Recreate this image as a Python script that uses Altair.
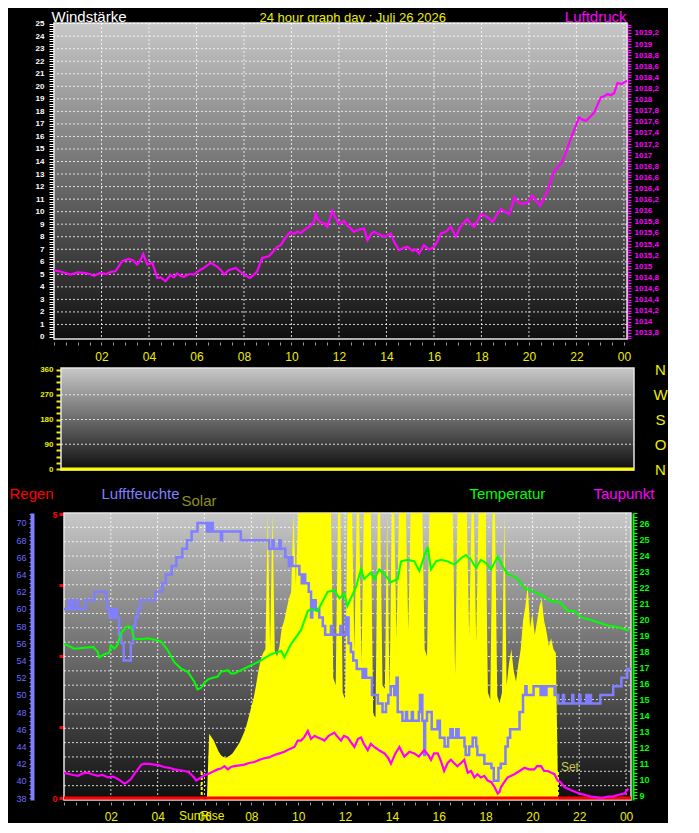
import altair as alt
import pandas as pd

# ------------------------------------------------------------------ data
title_text = "24 hour graph day : Juli 26 2026"

# Luftdruck (hPa), upper panel
p_hours = [0.0, 0.3, 0.7, 1.0, 1.26, 1.5, 1.68, 1.96, 2.2, 2.4, 2.59, 2.87, 3.15, 3.35, 3.5, 3.65,
           3.76, 3.93, 4.14, 4.35, 4.5, 4.7, 4.9, 5.05, 5.19, 5.35, 5.47, 5.7, 5.89, 6.1, 6.31, 6.6,
           6.88, 7.05, 7.16, 7.35, 7.51, 7.65, 7.85, 8.0, 8.25, 8.4, 8.56, 8.77, 9.05, 9.2, 9.4, 9.55,
           9.68, 9.85, 9.97, 10.1, 10.25, 10.4, 10.53, 10.7, 10.81, 10.95, 11.02, 11.1, 11.23, 11.4,
           11.51, 11.62, 11.72, 11.85, 12.0, 12.21, 12.36, 12.5, 12.63, 12.85, 13.06, 13.2, 13.35,
           13.48, 13.7, 13.9, 14.05, 14.18, 14.35, 14.53, 14.7, 14.88, 15.1, 15.25, 15.37, 15.58, 15.8,
           16.0, 16.15, 16.29, 16.5, 16.71, 16.92, 17.1, 17.25, 17.41, 17.55, 17.69, 17.85, 17.97,
           18.2, 18.47, 18.65, 18.82, 19.0, 19.17, 19.3, 19.38, 19.55, 19.73, 19.95, 20.15, 20.3,
           20.47, 20.62, 20.78, 20.92, 21.06, 21.25, 21.42, 21.6, 21.76, 21.95, 22.11, 22.25, 22.4,
           22.6, 22.75, 22.9, 23.03, 23.17, 23.31, 23.45, 23.59, 23.73, 23.9, 24.05, 24.13]
p_values = [1014.93, 1014.90, 1014.85, 1014.89, 1014.88, 1014.86, 1014.83, 1014.88, 1014.86, 1014.90,
            1014.91, 1015.09, 1015.13, 1015.10, 1015.03, 1015.12, 1015.22, 1015.03, 1015.06, 1014.79,
            1014.80, 1014.73, 1014.84, 1014.80, 1014.87, 1014.82, 1014.81, 1014.86, 1014.85, 1014.92,
            1014.97, 1015.06, 1014.99, 1014.92, 1014.85, 1014.93, 1014.95, 1014.97, 1014.90, 1014.85,
            1014.79, 1014.84, 1014.91, 1015.15, 1015.18, 1015.25, 1015.35, 1015.38, 1015.47, 1015.57,
            1015.62, 1015.58, 1015.62, 1015.60, 1015.65, 1015.70, 1015.73, 1015.80, 1015.94, 1015.85,
            1015.79, 1015.76, 1015.71, 1015.86, 1016.00, 1015.88, 1015.76, 1015.82, 1015.73, 1015.68,
            1015.62, 1015.66, 1015.68, 1015.47, 1015.58, 1015.62, 1015.57, 1015.53, 1015.56, 1015.59,
            1015.42, 1015.29, 1015.33, 1015.35, 1015.28, 1015.30, 1015.23, 1015.38, 1015.30, 1015.35,
            1015.45, 1015.59, 1015.62, 1015.71, 1015.53, 1015.70, 1015.78, 1015.85, 1015.76, 1015.71,
            1015.83, 1015.94, 1015.90, 1015.80, 1015.93, 1016.03, 1015.98, 1015.94, 1016.10, 1016.24,
            1016.15, 1016.12, 1016.15, 1016.27, 1016.18, 1016.09, 1016.22, 1016.35, 1016.55, 1016.71,
            1016.80, 1016.89, 1017.10, 1017.30, 1017.50, 1017.68, 1017.64, 1017.62, 1017.70, 1017.77,
            1017.92, 1018.04, 1018.06, 1018.10, 1018.08, 1018.12, 1018.30, 1018.28, 1018.32, 1018.34]

# Windrichtung (middle panel)
wdir_hours = [0, 24.13]
wdir_values = [0, 0]

# Luftfeuchte (%)
hum_hours = [0.0, 0.2, 0.25, 0.35, 0.4, 0.55, 0.6, 0.9, 1.3, 1.8, 1.85, 1.95, 2.05, 2.1, 2.2, 2.25,
             2.35, 2.45, 2.55, 2.85, 2.95, 3.05, 3.15, 3.25, 3.9, 4.2, 4.35, 4.6, 4.8, 5.05, 5.25,
             5.45, 5.7, 6.1, 6.15, 6.25, 6.3, 6.35, 6.7, 6.75, 7.55, 8.75, 8.9, 8.95, 9.2, 9.25,
             9.45, 9.6, 9.7, 9.75, 10.05, 10.15, 10.2, 10.3, 10.45, 10.55, 10.6, 10.65, 10.75, 10.9,
             11.05, 11.15, 11.4, 11.45, 11.8, 11.85, 12.05, 12.15, 12.25, 12.35, 12.5, 12.75, 12.85,
             12.9, 13.15, 13.4, 13.6, 13.75, 13.85, 13.95, 14.1, 14.2, 14.25, 14.45, 14.6, 14.65,
             14.85, 14.9, 15.15, 15.2, 15.3, 15.38, 15.42, 15.5, 15.7, 15.95, 16.05, 16.25, 16.4,
             16.5, 16.6, 16.75, 16.85, 17.1, 17.15, 17.3, 17.45, 17.6, 17.65, 17.95, 18.25, 18.35,
             18.55, 18.65, 18.85, 18.95, 19.05, 19.45, 19.6, 19.7, 19.75, 20.05, 20.35, 20.45, 20.5,
             20.6, 20.95, 21.1, 21.3, 21.35, 21.7, 21.75, 22.0, 22.05, 22.3, 22.35, 22.45, 22.5,
             22.9, 23.45, 23.8, 24.05, 24.21]
hum_values = [60, 61, 60, 61, 60, 61, 60, 61, 62, 61, 60, 59, 60, 59, 60, 59,
              57, 56, 54, 56, 58, 59, 60, 61, 62, 63, 64, 65, 66, 67, 68,
              69, 70, 69, 70, 69, 70, 69, 68, 69, 68, 67, 68, 67, 68, 67,
              66, 65, 66, 65, 64, 63, 64, 63, 62, 59, 60, 61, 60, 59,
              58, 57, 58, 57, 58, 57, 59, 56, 55, 54, 53, 52, 53,
              52, 50, 49, 48, 49, 50, 51, 50, 52, 48, 47, 48, 47,
              48, 47, 48, 50, 47, 43, 47, 48, 46, 47, 45, 44, 45,
              46, 45, 46, 45, 44, 43, 44, 45, 44, 43, 42, 41.5, 40,
              41.5, 42, 44, 45, 46, 48, 50, 51, 50, 51, 50, 51, 50,
              51, 50, 49, 50, 49, 50, 49, 50, 49, 50, 49, 50, 49,
              50, 51, 52, 53, 53]

# Temperatur (°C)
tmp_hours = [0.0, 0.09, 0.43, 0.87, 1.26, 1.44, 1.5, 1.72, 1.93, 2.0, 2.15, 2.29, 2.43, 2.65, 2.75,
             2.86, 3.0, 3.29, 3.57, 3.86, 4.14, 4.43, 4.71, 5.0, 5.28, 5.56, 5.7, 5.85, 5.99, 6.13,
             6.28, 6.56, 6.7, 6.99, 7.13, 7.27, 7.56, 7.84, 7.98, 8.13, 8.4, 8.84, 9.27, 9.41, 9.7,
             10.12, 10.41, 10.55, 10.83, 10.97, 11.26, 11.54, 11.76, 11.97, 12.1, 12.25, 12.47,
             12.68, 12.82, 13.1, 13.25, 13.46, 13.68, 13.96, 14.25, 14.39, 14.67, 14.96, 15.17,
             15.38, 15.53, 15.67, 15.88, 16.1, 16.38, 16.67, 16.95, 17.16, 17.38, 17.59, 17.8,
             18.02, 18.23, 18.52, 18.73, 18.94, 19.16, 19.37, 19.66, 19.94, 20.08, 20.37, 20.5,
             20.8, 20.94, 21.22, 21.5, 21.79, 22.08, 22.36, 22.79, 23.22, 23.64, 24.07, 24.13]
tmp_values = [18.45, 18.4, 18.14, 18.2, 18.25, 17.94, 17.6, 17.8, 17.9, 18.36, 18.15, 18.4, 19.1,
              19.5, 19.55, 19.5, 18.77, 18.73, 18.8, 18.7, 18.6, 18.05, 17.3, 16.9, 16.7, 16.1,
              15.6, 15.7, 16.0, 16.2, 16.3, 16.4, 16.7, 16.8, 16.6, 16.6, 16.8, 17.0, 17.1, 17.2,
              17.4, 17.8, 18.0, 17.6, 18.45, 19.3, 20.5, 20.6, 20.5, 20.9, 21.7, 21.8, 21.3, 21.6,
              20.8, 21.3, 22.0, 23.1, 22.5, 22.9, 22.5, 23.1, 22.8, 22.3, 22.5, 23.6, 23.7, 23.6,
              23.0, 23.9, 24.5, 23.1, 23.6, 23.7, 23.6, 23.4, 23.8, 24.0, 23.7, 23.2, 23.7, 23.5,
              23.1, 23.9, 23.3, 22.8, 22.7, 22.5, 21.9, 21.8, 21.7, 21.5, 21.4, 21.1, 21.1, 21.0,
              20.5, 20.5, 20.1, 20.0, 19.8, 19.6, 19.5, 19.3, 19.3]

# Taupunkt (°C)
dew_hours = [0.0, 0.16, 0.4, 0.6, 0.8, 1.01, 1.2, 1.44, 1.65, 1.87, 2.1, 2.3, 2.45, 2.58, 2.7, 2.86,
             3.0, 3.15, 3.3, 3.43, 3.65, 3.86, 4.05, 4.28, 4.5, 4.71, 4.9, 5.14, 5.3, 5.42, 5.55,
             5.64, 5.75, 5.85, 6.0, 6.13, 6.35, 6.56, 6.7, 6.85, 6.99, 7.13, 7.27, 7.5, 7.7, 7.9,
             8.13, 8.35, 8.55, 8.75, 8.98, 9.2, 9.41, 9.6, 9.84, 9.98, 10.12, 10.25, 10.41, 10.55,
             10.7, 10.83, 11.0, 11.12, 11.3, 11.54, 11.7, 11.83, 11.95, 12.11, 12.25, 12.4, 12.55,
             12.68, 12.8, 12.97, 13.1, 13.25, 13.45, 13.68, 13.85, 13.96, 14.15, 14.32, 14.53,
             14.75, 14.96, 15.15, 15.38, 15.55, 15.67, 15.8, 15.96, 16.1, 16.23, 16.38, 16.52,
             16.65, 16.8, 16.95, 17.09, 17.24, 17.38, 17.52, 17.65, 17.8, 17.95, 18.09, 18.25,
             18.38, 18.52, 18.6, 18.66, 18.8, 18.94, 19.1, 19.23, 19.45, 19.66, 19.85, 20.08, 20.2,
             20.37, 20.5, 20.65, 20.79, 20.94, 21.08, 21.2, 21.37, 21.65, 22.0, 22.25, 22.5, 22.75,
             22.93, 23.22, 23.45, 23.64, 23.93, 24.1]
dew_values = [10.4, 10.33, 10.25, 10.2, 10.35, 10.4, 10.3, 10.2, 10.25, 10.1, 10.15, 10.0, 9.85, 9.7,
              9.8, 10.0, 10.3, 10.6, 10.9, 10.96, 10.95, 10.9, 10.85, 10.75, 10.7, 10.6, 10.55, 10.5,
              10.45, 10.3, 10.1, 9.9, 10.0, 10.1, 10.25, 10.3, 10.45, 10.6, 10.65, 10.8, 10.6,
              10.75, 10.8, 10.85, 10.9, 11.0, 11.06, 11.2, 11.3, 11.35, 11.5, 11.6, 11.7, 11.85,
              12.0, 12.4, 12.4, 12.6, 13.0, 12.5, 12.7, 12.6, 12.5, 12.4, 12.7, 12.9, 12.6, 12.4,
              12.7, 12.6, 12.3, 12.0, 12.5, 12.6, 12.2, 11.8, 12.2, 12.0, 11.8, 11.6, 11.3, 10.96,
              11.6, 12.0, 11.4, 11.7, 11.6, 11.4, 11.8, 11.5, 11.2, 11.6, 11.6, 11.1, 10.5, 11.0,
              11.2, 11.0, 10.8, 11.0, 11.2, 10.4, 10.5, 10.1, 10.3, 10.1, 10.2, 9.9, 9.8, 9.5, 9.1,
              9.2, 9.5, 9.8, 10.1, 10.2, 10.3, 10.5, 10.7, 10.6, 10.6, 10.8, 10.8, 10.5, 10.5, 10.4,
              10.3, 9.9, 9.8, 9.5, 9.3, 9.1, 9.0, 8.9, 8.85, 8.8, 8.9, 8.9, 9.0, 9.1, 9.4]

# Solar (W/m², 0.1 h steps starting 06:06)
solar_start = 6.1
solar_step = 0.1
solar_values = [0, 185, 175, 165, 150, 135, 125, 120, 118,
                120, 125, 130, 140, 150, 160, 175, 190, 210, 235,
                260, 285, 320, 360, 390, 410, 420, 800, 425, 800,
                415, 400, 430, 480, 500, 530, 560, 580, 800, 600,
                800, 800, 800, 800, 800, 800, 800, 800, 800, 800,
                800, 800, 800, 800, 800, 340, 320, 800, 800, 300,
                280, 800, 800, 800, 420, 800, 800, 380, 800, 800,
                800, 800, 240, 230, 800, 800, 320, 310, 800, 300,
                800, 800, 450, 800, 800, 800, 800, 470, 800, 800,
                800, 800, 800, 800, 420, 400, 800, 800, 800, 800,
                800, 800, 800, 800, 800, 800, 800, 350, 800, 800,
                800, 800, 800, 460, 800, 800, 440, 800, 800, 800,
                800, 300, 280, 800, 800, 290, 270, 300, 800, 320,
                380, 420, 360, 330, 380, 420, 500, 540, 600, 480,
                520, 460, 500, 540, 560, 500, 470, 430, 450, 420,
                410, 0]
solar_hours = [round(solar_start + solar_step * i, 2) for i in range(len(solar_values))]

# Regen (mm)
rain_hours = [0, 24.21]
rain_values = [0, 0]

# Sonnenauf-/untergang
sun_labels = ["SunRise", "Set"]
sun_hours = [5.88, 21.09]

# ------------------------------------------------------------------ styling helpers
FONT = "Liberation Sans"
YEL = "#eeee00"
MAG = "#ff00ff"
BLUE = "#7f7fff"
GREEN = "#00ff00"
RED = "#ff0000"
GRID = dict(color="#ffffff", strokeDash=[2, 2], strokeWidth=1, opacity=0.8)
ONE = pd.DataFrame({"k": [0]})


def grad():
    return alt.LinearGradient(gradient="linear", x1=0, x2=0, y1=0, y2=1,
                              stops=[alt.GradientStop(color="#c8c8c8", offset=0),
                                     alt.GradientStop(color="#0e0e0e", offset=1)])


def sc(dom):
    return alt.Scale(domain=dom, nice=False, zero=False)


hour_ticks = [i * 0.5 for i in range(49)]
hour_grid = list(range(2, 25, 2))
hour_label = ("datum.value % 2 == 0 && datum.value > 0 ? (datum.value == 24 ? '00' : "
              "(datum.value < 10 ? '0' + datum.value : '' + datum.value)) : ''")
INT_LABEL = "abs(datum.value - round(datum.value)) < 0.01 ? toString(round(datum.value)) : ''"


def hour_axis(offset):
    return alt.Axis(orient="bottom", values=hour_ticks, labelExpr=hour_label, grid=False,
                    domain=False, ticks=True,
                    tickColor="#9a9a9a", tickSize=3, tickWidth=1, offset=offset,
                    labelColor=YEL, labelFont=FONT, labelFontSize=12, labelPadding=6,
                    labelOverlap=False, labelFlush=False, title=None)


def make_x(dom, axis):
    """x encodings of one panel: same scale and same axis everywhere"""
    def fx(field=None, datum=None):
        if field is not None:
            return alt.X(field, type="quantitative", scale=sc(dom), axis=axis)
        return alt.XDatum(datum, type="quantitative", scale=sc(dom), axis=axis)
    return fx


def ttl(text, color, x, y, size=15):
    return dict(title=text, titleColor=color, titleFont=FONT, titleFontSize=size,
                titleFontWeight="normal", titleAngle=0, titleAlign="left",
                titleBaseline="alphabetic", titleX=x, titleY=y)


# ------------------------------------------------------------------ top panel
T_W, T_H = 573, 316
T_XD = [0, 24.13]
WS_D = [-0.16, 25.05]
P_D = [1013.69, 1019.38]
tx = make_x(T_XD, hour_axis(3))

ws_ticks = [round(i * 0.2, 1) for i in range(126)]
ws_axis = alt.Axis(orient="left", values=ws_ticks, labelExpr=INT_LABEL, grid=False,
                   domain=True, domainColor="#ffffff", domainWidth=1.5,
                   tickColor="#ffffff", tickSize=5, tickWidth=1,
                   labelColor="#ffffff", labelFont=FONT, labelFontSize=8, labelFontWeight="bold",
                   labelPadding=5, labelOverlap=False, labelFlush=False,
                   **ttl("Windstärke", "#ffffff", -3, -2))
title_axis = alt.Axis(orient="left", labels=False, ticks=False, domain=False, grid=False,
                      **ttl(title_text, YEL, 205, -2, 13))
p_ticks = [round(1013.70 + 0.05 * i, 2) for i in range(114)]
p_axis = alt.Axis(orient="right", values=p_ticks,
                  labelExpr="abs(datum.value * 5 - round(datum.value * 5)) < 0.01 ? "
                            "replace(toString(round(datum.value * 10) / 10), '.', ',') : ''",
                  grid=False, domain=True, domainColor=MAG, domainWidth=2,
                  tickColor=MAG, tickSize=4, tickWidth=1,
                  labelColor=MAG, labelFont=FONT, labelFontSize=8, labelFontWeight="bold",
                  labelPadding=3, labelOverlap=False, labelFlush=False,
                  title="Luftdruck", titleColor=MAG, titleFont=FONT, titleFontSize=15,
                  titleFontWeight="normal", titleAngle=0, titleAlign="right",
                  titleBaseline="alphabetic", titleX=-1, titleY=-2)

t_bg = alt.Chart(ONE).mark_rect(fill=grad(), stroke="#e4e4e4", strokeWidth=1.5).encode(
    x=tx(datum=T_XD[0]),
    x2=alt.X2Datum(T_XD[1]),
    y=alt.YDatum(WS_D[0], type="quantitative", scale=sc(WS_D), axis=ws_axis),
    y2=alt.Y2Datum(WS_D[1]),
)
t_hgrid = alt.Chart(pd.DataFrame({"v": list(range(1, 26))})).mark_rule(**GRID).encode(
    y=alt.Y("v:Q", scale=sc(WS_D), axis=title_axis))
t_vgrid = alt.Chart(pd.DataFrame({"h": hour_grid})).mark_rule(**GRID).encode(
    x=tx("h"))
t_line = alt.Chart(pd.DataFrame({"h": p_hours, "p": p_values})).mark_line(
    color=MAG, strokeWidth=2.2).encode(
    x=tx("h"),
    y=alt.Y("p:Q", scale=sc(P_D), axis=p_axis))

top = alt.layer(t_bg, t_hgrid, t_vgrid, t_line).resolve_scale(y="independent").properties(
    width=T_W, height=T_H)

# ------------------------------------------------------------------ middle panel
M_W, M_H = 580, 116
M_XD = [-0.295, 24.13]
WD_D = [-54.5, 367.27]
mx = make_x(M_XD, None)

wd_axis = alt.Axis(orient="left", offset=-7, values=[i * 22.5 for i in range(17)],
                   labelExpr="datum.value % 90 == 0 ? toString(datum.value) : ''",
                   domain=False, grid=False, tickColor=YEL, tickSize=5, tickWidth=2,
                   labelColor=YEL, labelFont=FONT, labelFontSize=8, labelFontWeight="bold",
                   labelPadding=3, labelOverlap=False, labelFlush=False, title=None)
compass_axis = alt.Axis(orient="right", offset=26, values=[0, 90, 180, 270, 360],
                        labelExpr="datum.value == 270 ? 'W' : datum.value == 180 ? 'S' : "
                                  "datum.value == 90 ? 'O' : 'N'",
                        domain=False, ticks=False, tickSize=0, grid=False,
                        labelColor=YEL, labelFont=FONT, labelFontSize=15, labelAlign="center",
                        labelBaseline="middle", labelPadding=0, labelOverlap=False,
                        labelFlush=False, title=None)

m_bg = alt.Chart(ONE).mark_rect(fill=grad(), stroke="#e4e4e4", strokeWidth=1.5).encode(
    x=mx(datum=0),
    x2=alt.X2Datum(24.13),
    y=alt.YDatum(-3.6, type="quantitative", scale=sc(WD_D), axis=None),
    y2=alt.Y2Datum(367.27),
)
m_grid = alt.Chart(pd.DataFrame({"v": [90, 180, 270]})).mark_rule(**GRID).encode(
    x=mx(datum=0),
    x2=alt.X2Datum(24.13),
    y=alt.Y("v:Q", scale=sc(WD_D), axis=compass_axis))
m_line = alt.Chart(pd.DataFrame({"h": wdir_hours, "d": wdir_values})).mark_line(
    color="#ffff00", strokeWidth=3).encode(
    x=mx("h"),
    y=alt.Y("d:Q", scale=sc(WD_D), axis=wd_axis))

mid = alt.layer(m_bg, m_grid, m_line).resolve_scale(y="independent").properties(
    width=M_W, height=M_H)

# ------------------------------------------------------------------ bottom panel
B_W, B_H = 577, 287
B_XD = [-0.427, 24.21]
S_D = [0, 800]
H_D = [37.77, 71.16]
TP_D = [8.6875, 26.625]
R_D = [-0.035, 5.018]
bx = make_x(B_XD, hour_axis(2))

solar_axis = alt.Axis(orient="left", offset=0, labels=False, ticks=False, domain=False,
                      grid=False, **ttl("Solar", "#8f8f25", 127, -8))
rain_axis = alt.Axis(orient="left", offset=-10, values=[0, 1.25, 2.5, 3.75, 5],
                     labelExpr="datum.value == 0 || datum.value == 5 ? toString(datum.value) : ''",
                     domain=False, grid=False, tickColor=RED, tickSize=5, tickWidth=3,
                     labelColor=RED, labelFont=FONT, labelFontSize=9, labelFontWeight="bold",
                     labelPadding=2, labelOverlap=False, labelFlush=False,
                     **ttl("Regen", RED, -55, -15))
hum_axis = alt.Axis(orient="left", offset=22, values=[38 + 0.5 * i for i in range(67)],
                    labelExpr="abs(datum.value / 2 - round(datum.value / 2)) < 0.01 ? "
                              "toString(round(datum.value)) : ''",
                    domain=True, domainColor=BLUE, domainWidth=4, grid=False,
                    tickColor=BLUE, tickSize=3, tickWidth=1,
                    labelColor="#6c6cff", labelFont=FONT, labelFontSize=9,
                    labelPadding=3, labelOverlap=False, labelFlush=False,
                    **ttl("Lufftfeuchte", BLUE, 69, -15))
tmp_axis = alt.Axis(orient="right", offset=2, values=[round(8.8 + 0.2 * i, 1) for i in range(90)],
                    labelExpr=INT_LABEL, domain=True, domainColor=GREEN, domainWidth=2, grid=False,
                    tickColor=GREEN, tickSize=4, tickWidth=1,
                    labelColor=GREEN, labelFont=FONT, labelFontSize=9, labelFontWeight="bold",
                    labelPadding=2, labelOverlap=False, labelFlush=False,
                    **ttl("Temperatur", GREEN, -164, -15))
dew_axis = alt.Axis(orient="right", offset=0, labels=False, ticks=False, domain=False, grid=False,
                    **ttl("Taupunkt", MAG, -38, -15))

b_bg = alt.Chart(ONE).mark_rect(fill=grad(), stroke="#e4e4e4", strokeWidth=1.5).encode(
    x=bx(datum=0),
    x2=alt.X2Datum(24.21),
    y=alt.YDatum(0, type="quantitative", scale=sc(S_D), axis=solar_axis),
    y2=alt.Y2Datum(800),
)
b_hgrid = alt.Chart(pd.DataFrame({"v": list(range(40, 800, 40))})).mark_rule(**GRID).encode(
    x=bx(datum=0),
    x2=alt.X2Datum(24.21),
    y=alt.Y("v:Q", scale=sc(S_D), axis=None))
b_vgrid = alt.Chart(pd.DataFrame({"h": hour_grid})).mark_rule(**GRID).encode(
    x=bx("h"))
b_solar = alt.Chart(pd.DataFrame({"h": solar_hours, "s": solar_values})).mark_area(
    color="#ffff00", opacity=1).encode(
    x=bx("h"),
    y=alt.Y("s:Q", scale=sc(S_D), axis=None))
sun_df = pd.DataFrame({"h": sun_hours, "lab": sun_labels})
b_sun = alt.Chart(sun_df).mark_rule(color="#ffff00", strokeWidth=2, strokeDash=[3, 2]).encode(
    x=bx("h"),
    y=alt.YDatum(0, type="quantitative", scale=sc(S_D), axis=None),
    y2=alt.Y2Datum(80))
b_rain = alt.Chart(pd.DataFrame({"h": rain_hours, "r": rain_values})).mark_line(
    color=RED, strokeWidth=3).encode(
    x=bx("h"),
    y=alt.Y("r:Q", scale=sc(R_D), axis=rain_axis))
b_hum = alt.Chart(pd.DataFrame({"h": hum_hours, "v": hum_values})).mark_line(
    color=BLUE, strokeWidth=2.5, interpolate="step-after").encode(
    x=bx("h"),
    y=alt.Y("v:Q", scale=sc(H_D), axis=hum_axis))
b_tmp = alt.Chart(pd.DataFrame({"h": tmp_hours, "v": tmp_values})).mark_line(
    color=GREEN, strokeWidth=2).encode(
    x=bx("h"),
    y=alt.Y("v:Q", scale=sc(TP_D), axis=tmp_axis))
b_dew = alt.Chart(pd.DataFrame({"h": dew_hours, "v": dew_values})).mark_line(
    color=MAG, strokeWidth=2.2).encode(
    x=bx("h"),
    y=alt.Y("v:Q", scale=sc(TP_D), axis=dew_axis))
b_rise = alt.Chart(sun_df.iloc[[0]]).mark_text(
    color=YEL, font=FONT, fontSize=12, align="center", baseline="top", dy=11).encode(
    x=bx("h"),
    y=alt.YDatum(0, type="quantitative", scale=sc(S_D), axis=None),
    text="lab:N")
b_set = alt.Chart(sun_df.iloc[[1]]).mark_text(
    color="#c8c850", font=FONT, fontSize=12, align="left", baseline="alphabetic", dx=3).encode(
    x=bx("h"),
    y=alt.YDatum(80, type="quantitative", scale=sc(S_D), axis=None),
    text="lab:N")

bot = alt.layer(b_bg, b_hgrid, b_vgrid, b_solar, b_sun, b_rain, b_hum, b_tmp, b_dew,
                b_rise, b_set).resolve_scale(y="independent").properties(width=B_W, height=B_H)

# ------------------------------------------------------------------ assemble
chart = alt.vconcat(top, mid, bot, spacing=29, bounds="flush").properties(
    background="#000000", padding=0).configure_view(stroke="transparent")

chart.save("out.html", embed_options={"renderer": "svg", "actions": False})
